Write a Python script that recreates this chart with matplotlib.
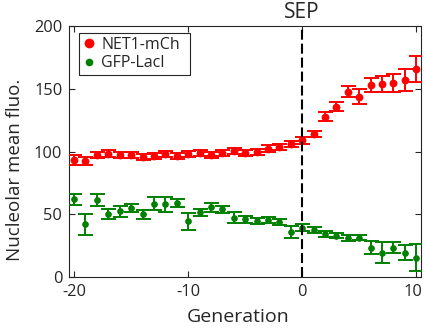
import matplotlib
matplotlib.use("Agg")
import matplotlib.pyplot as plt
from matplotlib.lines import Line2D
from matplotlib.transforms import ScaledTranslation
import numpy as np

generation = list(range(-20, 11))
net1_mean = [93.5, 92.5, 97.5, 98.5, 97.5, 97.5, 96, 96.5, 98, 96.5, 98, 99, 97.5, 99,
             100.5, 99, 100, 102.5, 104, 106, 109, 114, 128, 136, 148, 144, 153, 154,
             155, 157, 166]
net1_err = [3.7, 3.3, 2.6, 2.5, 2.5, 2.5, 2.5, 2.5, 2.5, 2.5, 2.5, 2.5, 2.5, 2.5, 2.5,
            2.5, 2.5, 2.5, 2.5, 2.5, 2.5, 2.4, 3.6, 3.7, 4.4, 5.8, 5.7, 6.6, 7, 8.7, 10.6]
gfp_mean = [62, 42, 61.5, 50.5, 52.5, 55, 50, 58.5, 58, 59, 44.5, 51.5, 55.5, 54, 47.5,
            46, 45, 45.5, 44, 36, 39.5, 37.5, 34.5, 33, 31, 31.5, 23.5, 19.5, 23.5,
            19.5, 15.5]
gfp_err = [4.6, 8.2, 5, 4, 4.4, 3.4, 3.7, 5.4, 6.2, 2.9, 6.6, 2.9, 3.4, 3, 4, 2.5, 2.5,
           2.5, 2.5, 4.6, 2.5, 2.2, 2.2, 2.2, 2.2, 2.2, 5.3, 8.6, 4.2, 6, 10.6]
series_labels = ["NET1-mCh", "GFP-LacI"]
x_ticks = [-20, -10, 0, 10]
y_ticks = [0, 50, 100, 150, 200]

plt.rcParams['font.family'] = ['Open Sans', 'DejaVu Sans']
plt.rcParams['axes.unicode_minus'] = False
txt = '#262626'

fig = plt.figure(figsize=(4.24, 3.31), dpi=100)
ax = fig.add_axes([0.1634, 0.1631, 0.8296, 0.757])

red = '#ff0000'
green = '#008000'
ax.errorbar(generation, net1_mean, yerr=net1_err, fmt='o', color=red, ms=4.6,
            elinewidth=1.4, capsize=5.4, capthick=1.4, zorder=3)
ax.errorbar(generation, gfp_mean, yerr=gfp_err, fmt='o', color=green, ms=3.8,
            elinewidth=1.4, capsize=5.4, capthick=1.4, zorder=3)

vl = ax.axvline(0, color='black', lw=1.5, zorder=4)
vl.set_dashes((4.8, 1.9))

ax.set_xlim(-20.42, 10.42)
ax.set_ylim(0, 200)
ax.set_xticks(x_ticks)
ax.set_yticks(y_ticks)
ax.tick_params(direction='in', length=4, width=0.8, colors=txt, labelsize=11.8,
               top=True, right=True)
ax.tick_params(axis='y', pad=5)
ax.tick_params(axis='x', pad=5)
for s in ax.spines.values():
    s.set_color(txt)
    s.set_linewidth(0.8)

last_tick = ax.xaxis.get_major_ticks()[-1]
last_tick.label1.set_transform(last_tick.label1.get_transform() +
                               ScaledTranslation(-2.5 / 72, 0, fig.dpi_scale_trans))

ax.set_xlabel('Generation', fontsize=14, color=txt)
ax.set_ylabel('Nucleolar mean fluo.', fontsize=13.5, color=txt)
ax.yaxis.set_label_coords(-0.13, 0.427)
ax.xaxis.set_label_coords(0.48, -0.125)

ax.text(0, 1.055, 'SEP', transform=ax.get_xaxis_transform(), ha='center',
        va='center', fontsize=15, color=txt)

handles = [Line2D([], [], ls='none', marker='o', color=red, ms=6),
           Line2D([], [], ls='none', marker='o', color=green, ms=4.5)]
leg = ax.legend(handles, series_labels, loc='upper left', fontsize=11.5,
                bbox_to_anchor=(0.0276, 0.974, 0.316, 0), mode='expand',
                fancybox=False, framealpha=1,
                edgecolor=txt, handlelength=0.7, handletextpad=0.45,
                borderpad=0.25, labelspacing=0.15, borderaxespad=0)
leg.get_frame().set_linewidth(0.8)
for t in leg.get_texts():
    t.set_color(txt)

fig.savefig('out.png', dpi=100)
